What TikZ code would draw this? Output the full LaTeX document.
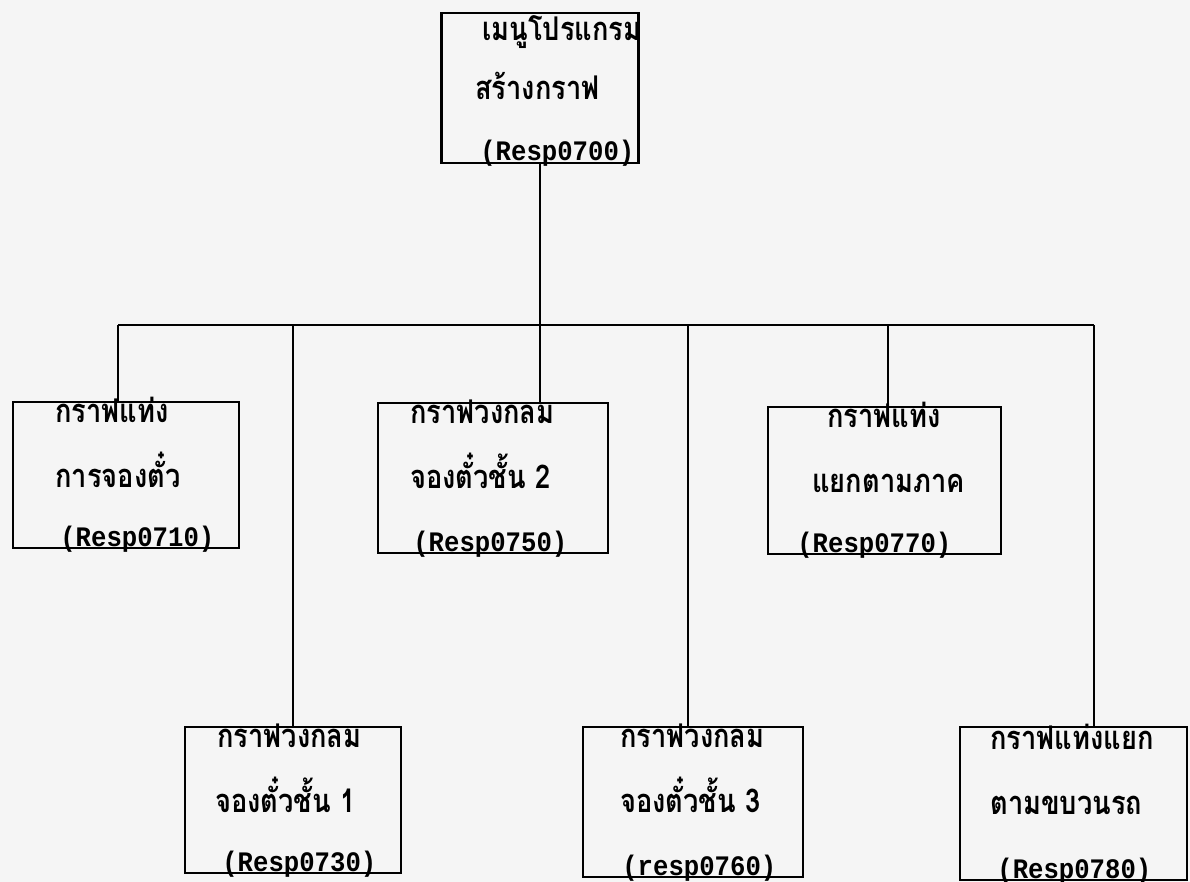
\documentclass[tikz,border=0pt]{standalone}
\usepackage{fontspec}
\setmonofont{Liberation Mono}
\newfontfamily\thaifont[Script=Thai]{Loma}

\tikzset{
	menubox/.style={draw=black, line width=1.15pt, inner sep=0pt},
	thaitext/.style={font=\thaifont\bfseries\fontsize{15.5}{18}\selectfont, inner sep=0pt, anchor=base west, yscale=1.2, transform shape},
	codetext/.style={font=\ttfamily\bfseries\fontsize{14.6}{17}\selectfont, inner sep=0pt, anchor=base west, yscale=1.1, transform shape}
}

\begin{document}
\begin{tikzpicture}

	\fill[black!4] (0,0) rectangle (23.8,-17.64);
	\useasboundingbox (0,0) rectangle (23.8,-17.64);

	% Menu programa
	\draw (10.8,-1.76) node[menubox, minimum width=3.94cm, minimum height=3cm] (menu) {};
	\node[thaitext] (menu-1) at (9.64,-0.82) {เมนูโปรแกรม};
	\node[thaitext] (menu-2) at (9.5,-2.0) {สร้างกราฟ};
	\node[codetext] (menu-3) at (9.6,-3.22) {(Resp0700)};

	% Fila de arriba
	\draw (2.52,-9.5) node[menubox, minimum width=4.52cm, minimum height=2.92cm] (r710) {};
	\node[thaitext] (r710-1) at (1.1,-8.44) {กราฟแท่ง};
	\node[thaitext] (r710-2) at (1.1,-9.74) {การจองตั๋ว};
	\node[codetext] (r710-3) at (1.2,-10.92) {(Resp0710)};

	\draw (9.86,-9.56) node[menubox, minimum width=4.6cm, minimum height=3cm] (r750) {};
	\node[thaitext] (r750-1) at (8.2,-8.46) {กราฟวงกลม};
	\node[thaitext] (r750-2) at (8.2,-9.76) {จองตั๋วชั้น 2};
	\node[codetext] (r750-3) at (8.26,-11.02) {(Resp0750)};

	\draw (17.69,-9.61) node[menubox, minimum width=4.66cm, minimum height=2.94cm] (r770) {};
	\node[thaitext] (r770-1) at (16.54,-8.54) {กราฟแท่ง};
	\node[thaitext] (r770-2) at (16.24,-9.84) {แยกตามภาค};
	\node[codetext] (r770-3) at (15.94,-11.04) {(Resp0770)};

	% Fila de abajo
	\draw (5.86,-16.0) node[menubox, minimum width=4.32cm, minimum height=2.92cm] (r730) {};
	\node[thaitext] (r730-1) at (4.34,-14.94) {กราฟวงกลม};
	\node[thaitext] (r730-2) at (4.3,-16.24) {จองตั๋วชั้น 1};
	\node[codetext] (r730-3) at (4.44,-17.42) {(Resp0730)};

	\draw (13.86,-16.04) node[menubox, minimum width=4.4cm, minimum height=3cm] (r760) {};
	\node[thaitext] (r760-1) at (12.4,-14.94) {กราฟวงกลม};
	\node[thaitext] (r760-2) at (12.4,-16.24) {จองตั๋วชั้น 3};
	\node[codetext] (r760-3) at (12.44,-17.5) {(resp0760)};

	\draw (21.47,-16.07) node[menubox, minimum width=4.54cm, minimum height=3.06cm] (r780) {};
	\node[thaitext] (r780-1) at (19.8,-14.98) {กราฟแท่งแยก};
	\node[thaitext] (r780-2) at (19.8,-16.28) {ตามขบวนรถ};
	\node[codetext] (r780-3) at (19.94,-17.56) {(Resp0780)};

	% Lineas
	\coordinate (j710) at (2.36,-6.5);
	\coordinate (j730) at (5.86,-6.5);
	\coordinate (j760) at (13.76,-6.5);
	\coordinate (j770) at (17.76,-6.5);
	\coordinate (j780) at (21.88,-6.5);

	\draw [line width=1.15pt] (j710) -- (j780);
	\draw [line width=1.15pt] (menu.south) -- (menu.south |- r750.north);
	\draw [line width=1.15pt] (j710) -- (j710 |- r710.north);
	\draw [line width=1.15pt] (j730) -- (j730 |- r730.north);
	\draw [line width=1.15pt] (j760) -- (j760 |- r760.north);
	\draw [line width=1.15pt] (j770) -- (j770 |- r770.north);
	\draw [line width=1.15pt] (j780) -- (j780 |- r780.north);

\end{tikzpicture}
\end{document}
